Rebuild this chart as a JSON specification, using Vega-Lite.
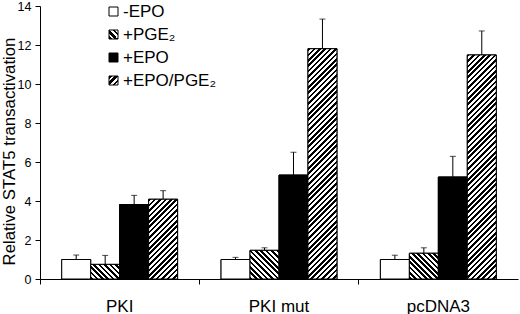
{
  "$schema": "https://vega.github.io/schema/vega-lite/v6.json",
  "width": 478,
  "height": 273,
  "autosize": "none",
  "padding": {"left": 40, "top": 6, "right": 2, "bottom": 35},
  "background": "white",
  "config": {
    "font": "Liberation Sans",
    "view": {"stroke": null},
    "axis": {"domainColor": "#000", "tickColor": "#000", "labelColor": "#000", "titleColor": "#000", "grid": false, "labelFont": "Liberation Sans", "titleFont": "Liberation Sans"}
  },
  "params": [
    {"name": "legstripes", "value": [{"offset":0,"color":"#000"},{"offset":0.1667,"color":"#000"},{"offset":0.1667,"color":"#fff"},{"offset":0.3333,"color":"#fff"},{"offset":0.3333,"color":"#000"},{"offset":0.5,"color":"#000"},{"offset":0.5,"color":"#fff"},{"offset":0.6667,"color":"#fff"},{"offset":0.6667,"color":"#000"},{"offset":0.8333,"color":"#000"},{"offset":0.8333,"color":"#fff"},{"offset":1,"color":"#fff"}]},
    {"name": "stripes", "value": [
{"offset":0.00,"color":"#000"},{"offset":0.01,"color":"#000"},{"offset":0.01,"color":"#fff"},{"offset":0.02,"color":"#fff"},
{"offset":0.02,"color":"#000"},{"offset":0.03,"color":"#000"},{"offset":0.03,"color":"#fff"},{"offset":0.04,"color":"#fff"},
{"offset":0.04,"color":"#000"},{"offset":0.05,"color":"#000"},{"offset":0.05,"color":"#fff"},{"offset":0.06,"color":"#fff"},
{"offset":0.06,"color":"#000"},{"offset":0.07,"color":"#000"},{"offset":0.07,"color":"#fff"},{"offset":0.08,"color":"#fff"},
{"offset":0.08,"color":"#000"},{"offset":0.09,"color":"#000"},{"offset":0.09,"color":"#fff"},{"offset":0.10,"color":"#fff"},
{"offset":0.10,"color":"#000"},{"offset":0.11,"color":"#000"},{"offset":0.11,"color":"#fff"},{"offset":0.12,"color":"#fff"},
{"offset":0.12,"color":"#000"},{"offset":0.13,"color":"#000"},{"offset":0.13,"color":"#fff"},{"offset":0.14,"color":"#fff"},
{"offset":0.14,"color":"#000"},{"offset":0.15,"color":"#000"},{"offset":0.15,"color":"#fff"},{"offset":0.16,"color":"#fff"},
{"offset":0.16,"color":"#000"},{"offset":0.17,"color":"#000"},{"offset":0.17,"color":"#fff"},{"offset":0.18,"color":"#fff"},
{"offset":0.18,"color":"#000"},{"offset":0.19,"color":"#000"},{"offset":0.19,"color":"#fff"},{"offset":0.20,"color":"#fff"},
{"offset":0.20,"color":"#000"},{"offset":0.21,"color":"#000"},{"offset":0.21,"color":"#fff"},{"offset":0.22,"color":"#fff"},
{"offset":0.22,"color":"#000"},{"offset":0.23,"color":"#000"},{"offset":0.23,"color":"#fff"},{"offset":0.24,"color":"#fff"},
{"offset":0.24,"color":"#000"},{"offset":0.25,"color":"#000"},{"offset":0.25,"color":"#fff"},{"offset":0.26,"color":"#fff"},
{"offset":0.26,"color":"#000"},{"offset":0.27,"color":"#000"},{"offset":0.27,"color":"#fff"},{"offset":0.28,"color":"#fff"},
{"offset":0.28,"color":"#000"},{"offset":0.29,"color":"#000"},{"offset":0.29,"color":"#fff"},{"offset":0.30,"color":"#fff"},
{"offset":0.30,"color":"#000"},{"offset":0.31,"color":"#000"},{"offset":0.31,"color":"#fff"},{"offset":0.32,"color":"#fff"},
{"offset":0.32,"color":"#000"},{"offset":0.33,"color":"#000"},{"offset":0.33,"color":"#fff"},{"offset":0.34,"color":"#fff"},
{"offset":0.34,"color":"#000"},{"offset":0.35,"color":"#000"},{"offset":0.35,"color":"#fff"},{"offset":0.36,"color":"#fff"},
{"offset":0.36,"color":"#000"},{"offset":0.37,"color":"#000"},{"offset":0.37,"color":"#fff"},{"offset":0.38,"color":"#fff"},
{"offset":0.38,"color":"#000"},{"offset":0.39,"color":"#000"},{"offset":0.39,"color":"#fff"},{"offset":0.40,"color":"#fff"},
{"offset":0.40,"color":"#000"},{"offset":0.41,"color":"#000"},{"offset":0.41,"color":"#fff"},{"offset":0.42,"color":"#fff"},
{"offset":0.42,"color":"#000"},{"offset":0.43,"color":"#000"},{"offset":0.43,"color":"#fff"},{"offset":0.44,"color":"#fff"},
{"offset":0.44,"color":"#000"},{"offset":0.45,"color":"#000"},{"offset":0.45,"color":"#fff"},{"offset":0.46,"color":"#fff"},
{"offset":0.46,"color":"#000"},{"offset":0.47,"color":"#000"},{"offset":0.47,"color":"#fff"},{"offset":0.48,"color":"#fff"},
{"offset":0.48,"color":"#000"},{"offset":0.49,"color":"#000"},{"offset":0.49,"color":"#fff"},{"offset":0.50,"color":"#fff"},
{"offset":0.50,"color":"#000"},{"offset":0.51,"color":"#000"},{"offset":0.51,"color":"#fff"},{"offset":0.52,"color":"#fff"},
{"offset":0.52,"color":"#000"},{"offset":0.53,"color":"#000"},{"offset":0.53,"color":"#fff"},{"offset":0.54,"color":"#fff"},
{"offset":0.54,"color":"#000"},{"offset":0.55,"color":"#000"},{"offset":0.55,"color":"#fff"},{"offset":0.56,"color":"#fff"},
{"offset":0.56,"color":"#000"},{"offset":0.57,"color":"#000"},{"offset":0.57,"color":"#fff"},{"offset":0.58,"color":"#fff"},
{"offset":0.58,"color":"#000"},{"offset":0.59,"color":"#000"},{"offset":0.59,"color":"#fff"},{"offset":0.60,"color":"#fff"},
{"offset":0.60,"color":"#000"},{"offset":0.61,"color":"#000"},{"offset":0.61,"color":"#fff"},{"offset":0.62,"color":"#fff"},
{"offset":0.62,"color":"#000"},{"offset":0.63,"color":"#000"},{"offset":0.63,"color":"#fff"},{"offset":0.64,"color":"#fff"},
{"offset":0.64,"color":"#000"},{"offset":0.65,"color":"#000"},{"offset":0.65,"color":"#fff"},{"offset":0.66,"color":"#fff"},
{"offset":0.66,"color":"#000"},{"offset":0.67,"color":"#000"},{"offset":0.67,"color":"#fff"},{"offset":0.68,"color":"#fff"},
{"offset":0.68,"color":"#000"},{"offset":0.69,"color":"#000"},{"offset":0.69,"color":"#fff"},{"offset":0.70,"color":"#fff"},
{"offset":0.70,"color":"#000"},{"offset":0.71,"color":"#000"},{"offset":0.71,"color":"#fff"},{"offset":0.72,"color":"#fff"},
{"offset":0.72,"color":"#000"},{"offset":0.73,"color":"#000"},{"offset":0.73,"color":"#fff"},{"offset":0.74,"color":"#fff"},
{"offset":0.74,"color":"#000"},{"offset":0.75,"color":"#000"},{"offset":0.75,"color":"#fff"},{"offset":0.76,"color":"#fff"},
{"offset":0.76,"color":"#000"},{"offset":0.77,"color":"#000"},{"offset":0.77,"color":"#fff"},{"offset":0.78,"color":"#fff"},
{"offset":0.78,"color":"#000"},{"offset":0.79,"color":"#000"},{"offset":0.79,"color":"#fff"},{"offset":0.80,"color":"#fff"},
{"offset":0.80,"color":"#000"},{"offset":0.81,"color":"#000"},{"offset":0.81,"color":"#fff"},{"offset":0.82,"color":"#fff"},
{"offset":0.82,"color":"#000"},{"offset":0.83,"color":"#000"},{"offset":0.83,"color":"#fff"},{"offset":0.84,"color":"#fff"},
{"offset":0.84,"color":"#000"},{"offset":0.85,"color":"#000"},{"offset":0.85,"color":"#fff"},{"offset":0.86,"color":"#fff"},
{"offset":0.86,"color":"#000"},{"offset":0.87,"color":"#000"},{"offset":0.87,"color":"#fff"},{"offset":0.88,"color":"#fff"},
{"offset":0.88,"color":"#000"},{"offset":0.89,"color":"#000"},{"offset":0.89,"color":"#fff"},{"offset":0.90,"color":"#fff"},
{"offset":0.90,"color":"#000"},{"offset":0.91,"color":"#000"},{"offset":0.91,"color":"#fff"},{"offset":0.92,"color":"#fff"},
{"offset":0.92,"color":"#000"},{"offset":0.93,"color":"#000"},{"offset":0.93,"color":"#fff"},{"offset":0.94,"color":"#fff"},
{"offset":0.94,"color":"#000"},{"offset":0.95,"color":"#000"},{"offset":0.95,"color":"#fff"},{"offset":0.96,"color":"#fff"},
{"offset":0.96,"color":"#000"},{"offset":0.97,"color":"#000"},{"offset":0.97,"color":"#fff"},{"offset":0.98,"color":"#fff"},
{"offset":0.98,"color":"#000"},{"offset":0.99,"color":"#000"},{"offset":0.99,"color":"#fff"},{"offset":1.00,"color":"#fff"}
    ]}
  ],
  "data": {"values": [
    {"c": "PKI", "g": "-EPO", "v": 1.0, "upper": 1.23},
    {"c": "PKI", "g": "+PGE₂", "v": 0.75, "upper": 1.21},
    {"c": "PKI", "g": "+EPO", "v": 3.82, "upper": 4.29},
    {"c": "PKI", "g": "+EPO/PGE₂", "v": 4.09, "upper": 4.53},
    {"c": "PKI mut", "g": "-EPO", "v": 1.0, "upper": 1.11},
    {"c": "PKI mut", "g": "+PGE₂", "v": 1.47, "upper": 1.6},
    {"c": "PKI mut", "g": "+EPO", "v": 5.33, "upper": 6.5},
    {"c": "PKI mut", "g": "+EPO/PGE₂", "v": 11.81, "upper": 13.33},
    {"c": "pcDNA3", "g": "-EPO", "v": 1.0, "upper": 1.22},
    {"c": "pcDNA3", "g": "+PGE₂", "v": 1.32, "upper": 1.6},
    {"c": "pcDNA3", "g": "+EPO", "v": 5.23, "upper": 6.29},
    {"c": "pcDNA3", "g": "+EPO/PGE₂", "v": 11.49, "upper": 12.72}
  ]},
  "encoding": {
    "x": {"field": "c", "type": "nominal", "sort": ["PKI", "PKI mut", "pcDNA3"],
      "scale": {"paddingInner": 0, "paddingOuter": 0},
      "axis": {"title": null, "labelAngle": 0, "bandPosition": 0, "tickSize": 5, "labelFontSize": 17, "labelBaseline": "alphabetic", "labelPadding": 27, "domainWidth": 1}},
    "xOffset": {"field": "g", "type": "nominal", "sort": ["-EPO", "+PGE₂", "+EPO", "+EPO/PGE₂"],
      "scale": {"paddingInner": 0, "paddingOuter": 0.75}},
    "y": {"field": "v", "type": "quantitative",
      "scale": {"domain": [0, 14], "nice": false},
      "axis": {"title": "Relative STAT5 transactivation", "values": [0, 2, 4, 6, 8, 10, 12, 14], "tickSize": 5, "labelFontSize": 12.5, "labelPadding": 4, "titleFontSize": 16.8, "titleFontWeight": "normal", "titleX": -22, "titleY": 145}}
  },
  "layer": [
    {
      "mark": {"type": "bar", "stroke": "#000", "strokeWidth": 1},
      "encoding": {
        "fill": {"field": "g", "type": "nominal",
          "scale": {"domain": ["-EPO", "+PGE₂", "+EPO", "+EPO/PGE₂"], "range": ["#ffffff", {"expr": "{gradient: 'linear', x1: 0, y1: 1, x2: 1, y2: 0, stops: legstripes}"}, "#000000", {"expr": "{gradient: 'linear', x1: 0, y1: 0, x2: 1, y2: 1, stops: legstripes}"}]},
          "legend": {"title": null, "orient": "none", "legendX": 65, "legendY": -3, "symbolType": "square", "symbolSize": 81, "symbolStrokeColor": "#000", "symbolStrokeWidth": 1, "labelFontSize": 17, "labelColor": "#000", "labelFont": "Liberation Sans", "rowPadding": 5, "labelOffset": 1}}
      }
    },
    {
      "mark": {"type": "bar", "stroke": "#000", "strokeWidth": 1},
      "encoding": {
        "fill": {"value": {"expr": "datum.g === '-EPO' ? '#ffffff' : datum.g === '+EPO' ? '#000000' : {gradient: 'linear', x1: 0, y1: (datum.g === '+PGE₂' ? 1 : 0), x2: 270 * bandwidth('xOffset') / (bandwidth('xOffset') * bandwidth('xOffset') + pow(scale('y', 0) - scale('y', datum.v), 2)), y2: (datum.g === '+PGE₂' ? 1 : 0) + (datum.g === '+PGE₂' ? -1 : 1) * 270 * (scale('y', 0) - scale('y', datum.v)) / (bandwidth('xOffset') * bandwidth('xOffset') + pow(scale('y', 0) - scale('y', datum.v), 2)), stops: stripes}"}}
      }
    },
    {
      "mark": {"type": "rule", "color": "#000", "strokeWidth": 1},
      "encoding": {"y2": {"field": "upper"}}
    },
    {
      "mark": {"type": "tick", "color": "#000", "thickness": 1, "size": 6},
      "encoding": {"y": {"field": "upper", "type": "quantitative"}}
    }
  ]
}
